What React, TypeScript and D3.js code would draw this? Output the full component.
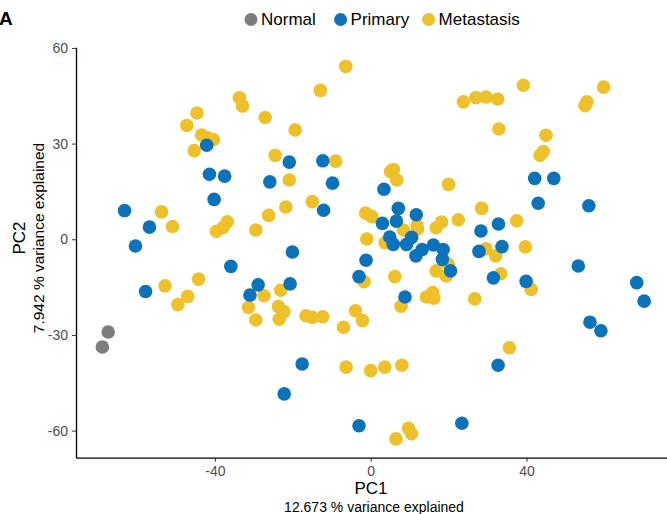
import React, { useEffect, useRef } from 'react';
import * as d3 from 'd3';

// PCA scores, [PC1, PC2]
const normal: [number, number][] = [[-67.4, -29.1], [-68.9, -33.8]];

const primary: [number, number][] = [
  [-42.1, 29.5], [-41.4, 20.4], [-37.5, 19.8], [-40.2, 12.5], [-63.2, 9.0], [-56.8, 3.8],
  [-60.4, -2.1], [-25.9, 18.0], [-20.9, 24.2], [-12.3, 24.6], [-9.8, 17.6], [-12.1, 9.1],
  [-35.9, -8.5], [-57.8, -16.4], [-28.9, -14.3], [-31.0, -17.5], [-20.7, -14.0], [-20.1, -4.0],
  [-17.6, -39.1], [-22.2, -48.5], [-3.0, -58.5], [3.4, 15.7], [7.1, 9.7], [11.7, 7.7],
  [3.0, 5.0], [6.6, 5.7], [4.9, 0.7], [5.8, -1.6], [9.2, -1.6], [10.5, 0.6],
  [13.2, -3.2], [11.6, -5.2], [16.1, -1.8], [18.6, -3.2], [18.4, -6.3], [20.5, -9.9],
  [-1.2, -6.6], [-3.0, -11.7], [8.8, -18.1], [23.4, -57.7], [28.3, 2.6], [32.8, 4.8],
  [27.8, -3.8], [33.7, -2.3], [31.5, -12.1], [39.9, -13.2], [32.7, -39.5], [42.1, 19.1],
  [47.0, 19.1], [43.0, 11.3], [56.0, 10.5], [53.3, -8.4], [68.3, -13.6], [70.2, -19.4],
  [56.3, -26.0], [59.1, -28.7],
];

const metastasis: [number, number][] = [
  [-33.7, 44.4], [-32.9, 41.8], [-44.6, 39.6], [-47.2, 35.7], [-27.1, 38.2], [-43.4, 32.7],
  [-41.9, 31.9], [-40.4, 31.3], [-45.3, 27.8], [-53.7, 8.6], [-50.9, 4.0], [-39.6, 2.5],
  [-37.9, 3.7], [-36.8, 5.5], [-29.5, 2.9], [-26.2, 7.5], [-24.5, 26.3], [-20.9, 18.6],
  [-21.8, 10.1], [-19.4, 34.3], [-12.9, 46.7], [-6.4, 54.2], [-9.0, 24.5], [-15.0, 11.8],
  [-44.2, -12.5], [-52.8, -14.6], [-47.0, -17.9], [-49.5, -20.5], [-27.4, -17.7], [-31.4, -21.4],
  [-29.5, -25.3], [-23.1, -16.0], [-23.7, -21.1], [-22.3, -22.7], [-23.5, -25.1], [-16.6, -24.0],
  [-15.0, -24.5], [-12.3, -24.3], [-3.9, -22.4], [-2.1, -25.5], [-7.0, -27.6], [-6.3, -40.1],
  [0.0, -41.2], [3.6, -40.1], [8.0, -39.5], [6.5, -62.6], [9.7, -59.3], [10.5, -61.0],
  [5.8, 21.9], [5.1, 21.2], [6.7, 18.6], [20.0, 17.2], [-1.3, 8.2], [0.3, 7.1],
  [8.4, 2.9], [11.9, 4.3], [12.0, 3.2], [16.8, 3.6], [18.2, 5.4], [22.5, 6.1],
  [-1.0, 0.1], [3.7, -1.1], [19.9, -7.8], [16.8, -9.9], [19.4, -11.5], [-1.7, -13.3],
  [6.2, -11.7], [7.8, -21.0], [14.3, -18.1], [15.9, -16.7], [16.2, -18.5], [26.7, -18.7],
  [23.8, 43.1], [27.0, 44.4], [29.6, 44.6], [32.6, 44.0], [39.2, 48.3], [32.9, 34.6],
  [45.0, 32.6], [43.5, 26.4], [44.3, 27.5], [55.5, 43.1], [55.0, 41.9], [59.8, 47.7],
  [28.5, 9.7], [37.5, 5.8], [29.6, -3.0], [32.1, -5.2], [39.7, -2.4], [33.4, -10.8],
  [41.2, -15.7], [35.6, -34.0],
];

const groups = [
  { name: 'Normal', color: '#7b7d7e', points: normal },
  { name: 'Primary', color: '#0c72ba', points: primary },
  { name: 'Metastasis', color: '#eec12b', points: metastasis },
];

const xTicks = [-40, 0, 40];
const yTicks = [-60, -30, 0, 30, 60];

const width = 667;
const height = 514;

export default function App() {
  const ref = useRef<SVGSVGElement>(null);

  useEffect(() => {
    const svg = d3.select(ref.current);
    svg.selectAll('*').remove();

    const font = 'Liberation Sans, Arial, sans-serif';
    const x = d3.scaleLinear().domain([-75.66, 76.07]).range([76, 667]);
    const y = d3.scaleLinear().domain([-68.5, 60.2]).range([457.7, 47.3]);

    // points: metastasis under, primary, then normal
    const drawOrder = [groups[2], groups[1], groups[0]];
    drawOrder.forEach(g => {
      svg.append('g')
        .selectAll('circle')
        .data(g.points)
        .enter()
        .append('circle')
        .attr('cx', d => x(d[0]))
        .attr('cy', d => y(d[1]))
        .attr('r', 6.8)
        .attr('fill', g.color);
    });

    // axes (plain hyphen minus like the original)
    const fmt = (d: any) => String(d);
    const xAxis = svg.append('g')
      .attr('transform', 'translate(0,' + y(-68.5) + ')')
      .call(d3.axisBottom(x).tickValues(xTicks).tickFormat(fmt).tickSize(4).tickSizeOuter(0).tickPadding(4));
    const yAxis = svg.append('g')
      .attr('transform', 'translate(' + x(-75.66) + ',0)')
      .call(d3.axisLeft(y).tickValues(yTicks).tickFormat(fmt).tickSize(4).tickSizeOuter(0).tickPadding(4));

    [xAxis, yAxis].forEach(a => {
      a.select('.domain').attr('stroke', '#000').attr('stroke-width', 1.3);
      a.selectAll('.tick line').attr('stroke', '#333').attr('stroke-width', 1);
      a.selectAll('.tick text')
        .attr('fill', '#4d4d4d')
        .attr('font-size', 14)
        .attr('font-family', font);
    });

    // axis titles
    svg.append('text')
      .attr('x', 371).attr('y', 494)
      .attr('text-anchor', 'middle')
      .attr('font-size', 17).attr('font-family', font)
      .text('PC1');
    svg.append('text')
      .attr('x', 374).attr('y', 511.5)
      .attr('text-anchor', 'middle')
      .attr('font-size', 14).attr('font-family', font)
      .text('12.673 % variance explained');
    svg.append('text')
      .attr('transform', 'translate(24.5,238) rotate(-90)')
      .attr('text-anchor', 'middle')
      .attr('font-size', 17).attr('font-family', font)
      .text('PC2');
    svg.append('text')
      .attr('transform', 'translate(44,238) rotate(-90)')
      .attr('text-anchor', 'middle')
      .attr('font-size', 15.5).attr('font-family', font)
      .text('7.942 % variance explained');

    // panel tag
    svg.append('text')
      .attr('x', -1).attr('y', 25)
      .attr('font-size', 19).attr('font-weight', 'bold').attr('font-family', font)
      .text('A');

    // legend
    const legendX = [251, 340.6, 428.6];
    groups.forEach((g, i) => {
      svg.append('circle')
        .attr('cx', legendX[i]).attr('cy', 19.5)
        .attr('r', 6.5)
        .attr('fill', g.color);
      svg.append('text')
        .attr('x', legendX[i] + 10).attr('y', 25)
        .attr('font-size', 17).attr('font-family', font)
        .text(g.name);
    });
  }, []);

  return (
    <svg
      ref={ref}
      width={width}
      height={height}
      style={{ position: 'absolute', left: 0, top: 0, background: '#fff' }}
    />
  );
}
